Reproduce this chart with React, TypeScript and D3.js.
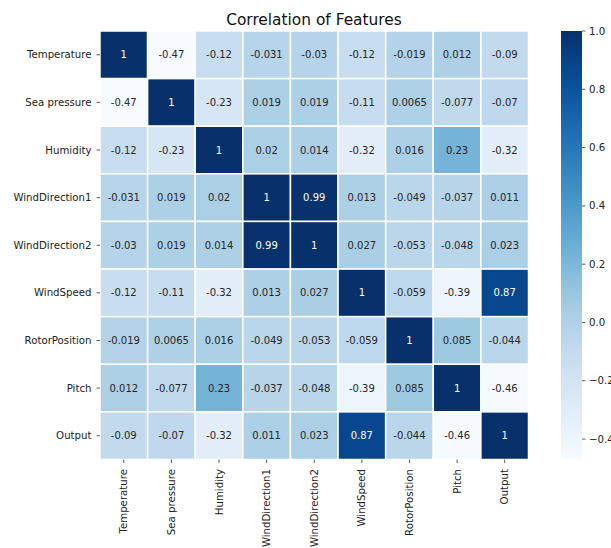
import React from "react";
import * as d3 from "d3";

const features = ["Temperature", "Sea pressure", "Humidity", "WindDirection1", "WindDirection2", "WindSpeed", "RotorPosition", "Pitch", "Output"];
const rowTemperature = [1, -0.47, -0.12, -0.031, -0.03, -0.12, -0.019, 0.012, -0.09];
const rowSeaPressure = [-0.47, 1, -0.23, 0.019, 0.019, -0.11, 0.0065, -0.077, -0.07];
const rowHumidity = [-0.12, -0.23, 1, 0.02, 0.014, -0.32, 0.016, 0.23, -0.32];
const rowWD1 = [-0.031, 0.019, 0.02, 1, 0.99, 0.013, -0.049, -0.037, 0.011];
const rowWD2 = [-0.03, 0.019, 0.014, 0.99, 1, 0.027, -0.053, -0.048, 0.023];
const rowWindSpeed = [-0.12, -0.11, -0.32, 0.013, 0.027, 1, -0.059, -0.39, 0.87];
const rowRotor = [-0.019, 0.0065, 0.016, -0.049, -0.053, -0.059, 1, 0.085, -0.044];
const rowPitch = [0.012, -0.077, 0.23, -0.037, -0.048, -0.39, 0.085, 1, -0.46];
const rowOutput = [-0.09, -0.07, -0.32, 0.011, 0.023, 0.87, -0.044, -0.46, 1];
const matrix = [rowTemperature, rowSeaPressure, rowHumidity, rowWD1, rowWD2, rowWindSpeed, rowRotor, rowPitch, rowOutput];
const labels = [
  ["1", "-0.47", "-0.12", "-0.031", "-0.03", "-0.12", "-0.019", "0.012", "-0.09"],
  ["-0.47", "1", "-0.23", "0.019", "0.019", "-0.11", "0.0065", "-0.077", "-0.07"],
  ["-0.12", "-0.23", "1", "0.02", "0.014", "-0.32", "0.016", "0.23", "-0.32"],
  ["-0.031", "0.019", "0.02", "1", "0.99", "0.013", "-0.049", "-0.037", "0.011"],
  ["-0.03", "0.019", "0.014", "0.99", "1", "0.027", "-0.053", "-0.048", "0.023"],
  ["-0.12", "-0.11", "-0.32", "0.013", "0.027", "1", "-0.059", "-0.39", "0.87"],
  ["-0.019", "0.0065", "0.016", "-0.049", "-0.053", "-0.059", "1", "0.085", "-0.044"],
  ["0.012", "-0.077", "0.23", "-0.037", "-0.048", "-0.39", "0.085", "1", "-0.46"],
  ["-0.09", "-0.07", "-0.32", "0.011", "0.023", "0.87", "-0.044", "-0.46", "1"],
];
const cbTicks = [1.0, 0.8, 0.6, 0.4, 0.2, 0.0, -0.2, -0.4];
const vmin = -0.47;
const vmax = 1;

const bluesStops = ["#f7fbff", "#deebf7", "#c6dbef", "#9ecae1", "#6baed6", "#4292c6", "#2171b5", "#08519c", "#08306b"];

const FONT = "DejaVu Sans, sans-serif";

function luminance(c: string) {
  const r = d3.rgb(c);
  const lin = (v: number) => {
    const s = v / 255;
    return s <= 0.03928 ? s / 12.92 : Math.pow((s + 0.055) / 1.055, 2.4);
  };
  return 0.2126 * lin(r.r) + 0.7152 * lin(r.g) + 0.0722 * lin(r.b);
}

export default function App() {
  const left = 100, top = 31, right = 528.5, bottom = 459.5;
  const x = d3.scaleBand<number>().domain(d3.range(features.length)).range([left, right]);
  const y = d3.scaleBand<number>().domain(d3.range(features.length)).range([top, bottom]);
  const t = d3.scaleLinear().domain([vmin, vmax]).range([0, 1]).clamp(true);
  const blues = d3.scaleLinear<string>()
    .domain(bluesStops.map((_, i) => i / (bluesStops.length - 1)))
    .range(bluesStops)
    .interpolate(d3.interpolateRgb);
  const color = (v: number) => blues(t(v));

  const cbX0 = 561, cbX1 = 582;
  const cbY = d3.scaleLinear().domain([vmin, vmax]).range([bottom, top]);
  const gradStops = d3.range(0, 1.0001, 0.05);

  return (
    <svg width={611} height={548} style={{ position: "absolute", left: 0, top: 0, background: "#fff" }} fontFamily={FONT}>
      <defs>
        <linearGradient id="cbgrad" x1="0" y1="1" x2="0" y2="0">
          {gradStops.map((s) => (
            <stop key={s} offset={s} stopColor={blues(s)} />
          ))}
        </linearGradient>
      </defs>
      <text x={314} y={25} textAnchor="middle" fontSize={15.4} fill="#111">Correlation of Features</text>
      {matrix.map((row, i) =>
        row.map((v, j) => {
          const c = color(v);
          const txtColor = luminance(c) > 0.408 ? "#262626" : "#ffffff";
          return (
            <g key={`${i}-${j}`}>
              <rect x={x(j)} y={y(i)} width={x.bandwidth()} height={y.bandwidth()} fill={c} stroke="#fff" strokeWidth={1.5} />
              <text x={x(j)! + x.bandwidth() / 2} y={y(i)! + y.bandwidth() / 2} dy="0.35em" textAnchor="middle" fontSize={10} fill={txtColor}>
                {labels[i][j]}
              </text>
            </g>
          );
        })
      )}
      {features.map((f, i) => (
        <g key={`y-${f}`}>
          <line x1={left - 3.5} x2={left} y1={y(i)! + y.bandwidth() / 2} y2={y(i)! + y.bandwidth() / 2} stroke="#333" strokeWidth={0.8} />
          <text x={left - 8.5} y={y(i)! + y.bandwidth() / 2} dy="0.35em" textAnchor="end" fontSize={10.2} fill="#222">{f}</text>
        </g>
      ))}
      {features.map((f, j) => {
        const cx = x(j)! + x.bandwidth() / 2;
        return (
          <g key={`x-${f}`}>
            <line x1={cx} x2={cx} y1={bottom} y2={bottom + 3.5} stroke="#333" strokeWidth={0.8} />
            <text transform={`translate(${cx},${bottom + 9.5}) rotate(-90)`} dy="0.35em" textAnchor="end" fontSize={10.2} fill="#222">{f}</text>
          </g>
        );
      })}
      <rect x={cbX0} y={top} width={cbX1 - cbX0} height={bottom - top} fill="url(#cbgrad)" />
      {cbTicks.map((v) => (
        <g key={`cb-${v}`}>
          <line x1={cbX1} x2={cbX1 + 3.5} y1={cbY(v)} y2={cbY(v)} stroke="#333" strokeWidth={0.8} />
          <text x={cbX1 + 7} y={cbY(v)} dy="0.35em" fontSize={10.2} fill="#222">
            {v < 0 ? "\u2212" + Math.abs(v).toFixed(1) : v.toFixed(1)}
          </text>
        </g>
      ))}
    </svg>
  );
}
